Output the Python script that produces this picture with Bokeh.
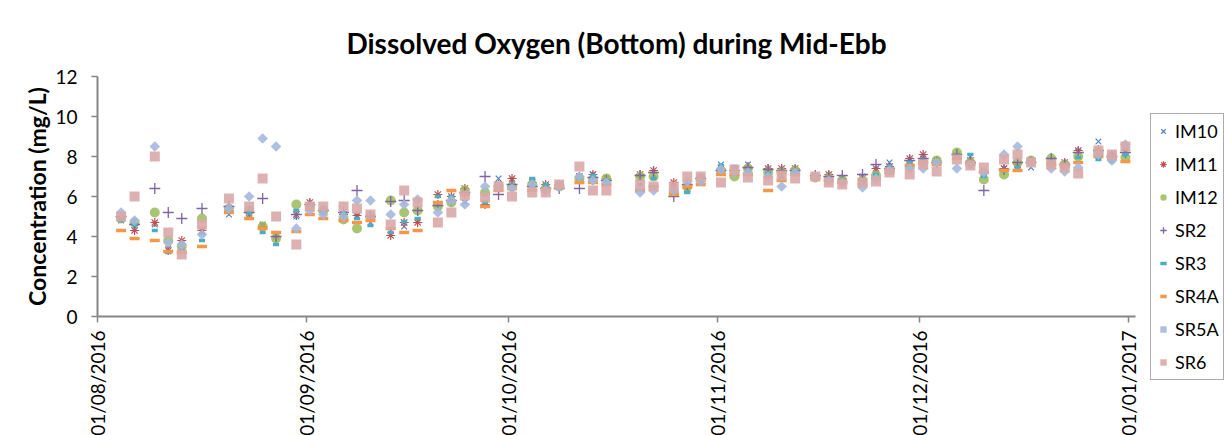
from math import pi
import pandas as pd
from bokeh.plotting import figure
from bokeh.models import FixedTicker, DatetimeTickFormatter, Range1d, Legend, LegendItem, ColumnDataSource
from bokeh.embed import file_html
from bokeh.resources import INLINE

title = "Dissolved Oxygen (Bottom) during Mid-Ebb"
y_label = "Concentration (mg/L)"
sample_time = "12:00"

dates = ["2016-08-04", "2016-08-06", "2016-08-09", "2016-08-11", "2016-08-13", "2016-08-16",
         "2016-08-20", "2016-08-23", "2016-08-25", "2016-08-27", "2016-08-30",
         "2016-09-01", "2016-09-03", "2016-09-06", "2016-09-08", "2016-09-10", "2016-09-13",
         "2016-09-15", "2016-09-17", "2016-09-20", "2016-09-22", "2016-09-24", "2016-09-27", "2016-09-29",
         "2016-10-01", "2016-10-04", "2016-10-06", "2016-10-08", "2016-10-11", "2016-10-13",
         "2016-10-15", "2016-10-20", "2016-10-22", "2016-10-25", "2016-10-27", "2016-10-29",
         "2016-11-01", "2016-11-03", "2016-11-05", "2016-11-08", "2016-11-10", "2016-11-12",
         "2016-11-15", "2016-11-17", "2016-11-19", "2016-11-22", "2016-11-24", "2016-11-26", "2016-11-29",
         "2016-12-01", "2016-12-03", "2016-12-06", "2016-12-08", "2016-12-10", "2016-12-13",
         "2016-12-15", "2016-12-17", "2016-12-20", "2016-12-22", "2016-12-24", "2016-12-27",
         "2016-12-29", "2016-12-31"]

IM10 = [4.8, 4.4, 4.6, 3.4, 3.6, 4.2, 5.1, 5.1, 4.6, 4.1, 5.0,
        5.4, 5.2, 5.0, 5.0, 4.7, 4.3, 4.5, 4.8, 5.6, 5.8, 5.7, 5.7, 6.9,
        6.8, 6.8, 6.5, 6.5, 7.0, 7.1, 6.9, 6.9, 7.1, 6.6, 6.3, 6.9,
        7.6, 7.4, 7.6, 7.3, 7.3, 7.3, 7.0, 7.0, 6.9, 7.0, 7.3, 7.7, 7.8,
        7.9, 7.8, 8.0, 8.0, 7.3, 7.4, 7.6, 7.45, 7.8, 7.6, 8.25, 8.75, 8.0, 8.2]
IM11 = [4.9, 4.3, 4.7, 3.3, 3.8, 4.3, 5.3, 5.2, 4.5, 4.0, 5.1,
        5.7, 5.3, 5.1, 5.05, 4.9, 4.05, 4.7, 4.7, 6.1, 6.0, 6.4, 5.6, 6.6,
        6.9, 6.7, 6.6, 6.6, 7.0, 7.1, 6.9, 7.1, 7.3, 6.7, 6.4, 6.9,
        7.4, 7.3, 7.4, 7.4, 7.4, 7.4, 7.05, 7.1, 6.9, 6.9, 7.4, 7.5, 7.9,
        8.1, 7.8, 8.05, 7.8, 7.2, 7.4, 7.6, 7.8, 7.7, 7.7, 8.3, 8.3, 8.1, 8.3]
IM12 = [4.9, 4.7, 5.2, 3.8, 3.5, 4.9, 5.4, 5.3, 4.5, 3.9, 5.6,
        5.5, 5.3, 4.85, 4.4, 5.0, 5.8, 5.2, 5.3, 5.5, 5.7, 6.3, 6.2, 6.5,
        6.5, 6.6, 6.4, 6.5, 6.9, 6.85, 6.9, 7.0, 7.0, 6.2, 6.5, 6.9,
        7.3, 7.0, 7.4, 7.2, 7.2, 7.3, 6.95, 6.9, 6.8, 6.8, 7.05, 7.3, 7.5,
        7.7, 7.8, 8.2, 7.7, 6.85, 7.1, 7.7, 7.8, 7.9, 7.6, 8.0, 8.2, 7.9, 7.95]
SR2 = [5.0, 4.6, 6.4, 5.2, 4.9, 5.4, 5.5, 5.2, 5.9, 4.0, 5.1,
       5.6, 5.3, 5.2, 6.3, 5.0, 5.75, 5.8, 5.3, 5.55, 5.8, 6.2, 7.0, 6.1,
       6.6, 6.5, 6.4, 6.4, 6.4, 6.95, 6.8, 7.05, 7.2, 6.0, 6.6, 6.9,
       7.3, 7.3, 7.45, 7.35, 7.3, 7.3, 7.05, 7.0, 7.05, 7.1, 7.6, 7.4, 7.8,
       7.9, 7.7, 8.1, 7.7, 6.3, 7.35, 7.7, 7.7, 7.9, 7.6, 8.2, 8.3, 8.0, 8.2]
SR3 = [4.8, 4.6, 4.3, 3.2, 3.3, 3.8, 5.3, 5.2, 4.2, 3.6, 5.3,
       5.5, 5.2, 5.2, 4.9, 4.55, 4.2, 4.75, 4.9, 6.0, 6.0, 6.1, 5.7, 6.5,
       6.4, 6.9, 6.6, 6.5, 6.9, 7.05, 6.8, 6.6, 6.9, 6.4, 6.2, 6.9,
       7.55, 7.5, 7.3, 7.15, 6.9, 7.2, 7.0, 6.9, 6.8, 6.8, 7.1, 7.5, 7.7,
       7.8, 7.7, 8.0, 8.1, 7.0, 7.3, 7.45, 7.7, 7.7, 7.5, 7.95, 7.85, 7.75, 8.1]
SR4A = [4.3, 3.9, 3.8, 3.25, 3.2, 3.5, 5.2, 4.9, 4.4, 4.2, 4.25,
        5.1, 4.9, 4.8, 4.7, 4.8, 4.4, 4.2, 4.3, 5.7, 6.3, 6.1, 5.5, 6.3,
        6.4, 6.3, 6.3, 6.5, 6.7, 6.7, 6.6, 6.3, 6.5, 6.1, 6.5, 6.6,
        7.1, 7.1, 7.1, 6.3, 6.8, 7.1, 6.9, 6.8, 6.7, 6.6, 6.9, 7.2, 7.55,
        7.7, 7.6, 7.9, 7.6, 7.2, 7.3, 7.3, 7.7, 7.6, 7.5, 7.7, 8.0, 7.9, 7.75]
SR5A = [5.2, 4.8, 8.5, 3.7, 3.6, 4.1, 5.4, 6.0, 8.9, 8.5, 4.4,
        5.3, 5.1, 5.0, 5.8, 5.8, 5.1, 5.6, 5.85, 5.2, 5.8, 5.6, 6.5, 6.5,
        6.4, 6.6, 6.3, 6.5, 7.0, 6.8, 6.7, 6.2, 6.3, 6.3, 6.75, 6.75,
        7.35, 7.2, 7.2, 7.0, 6.5, 7.2, 7.0, 6.8, 6.7, 6.45, 6.9, 7.3, 7.4,
        7.4, 7.7, 7.4, 7.6, 7.2, 8.1, 8.5, 7.7, 7.4, 7.25, 7.45, 8.1, 7.8, 8.6]
SR6 = [5.0, 6.0, 8.0, 4.2, 3.1, 4.6, 5.9, 5.5, 6.9, 5.0, 3.6,
       5.5, 5.5, 5.5, 5.4, 5.1, 4.6, 6.3, 5.7, 4.7, 5.2, 6.05, 5.95, 6.5,
       6.0, 6.2, 6.2, 6.6, 7.5, 6.3, 6.3, 6.6, 6.5, 6.5, 7.0, 7.0,
       6.7, 7.35, 6.95, 6.8, 7.05, 6.9, 7.0, 6.7, 6.6, 6.7, 6.75, 7.2, 7.1,
       7.6, 7.25, 7.85, 7.55, 7.45, 7.85, 8.1, 7.7, 7.6, 7.45, 7.15, 8.3, 8.1, 8.5]

tick_dates = ["2016-08-01", "2016-09-01", "2016-10-01", "2016-11-01", "2016-12-01", "2017-01-01"]
x_start, x_end = "2016-08-01", "2017-01-02"
y_ticks = [0, 2, 4, 6, 8, 10, 12]

series = [
    ("IM10", IM10, dict(marker="x", size=8, line_color="#4F81BD", line_width=1.2)),
    ("IM11", IM11, dict(marker="asterisk", size=9, line_color="#C0504D", line_width=1.2)),
    ("IM12", IM12, dict(marker="circle", size=10, fill_color="#9BBB59", fill_alpha=0.85, line_color=None)),
    ("SR2", SR2, dict(marker="cross", size=11, line_color="#8064A2", line_width=1.3)),
    ("SR3", SR3, dict(marker="dash", size=6, line_color="#4BACC6", line_width=3.5)),
    ("SR4A", SR4A, dict(marker="dash", size=10, line_color="#F79646", line_width=3.5)),
    ("SR5A", SR5A, dict(marker="square", size=7.5, angle=pi / 4, fill_color="#A5B8DC", fill_alpha=0.9, line_color=None)),
    ("SR6", SR6, dict(marker="square", size=10, fill_color="#D9A9A9", fill_alpha=0.9, line_color=None)),
]

FONT = "Lato"
x = pd.to_datetime([d + " " + sample_time for d in dates])

p = figure(frame_width=1038, frame_height=240, x_axis_type="datetime", output_backend="svg",
           toolbar_location=None, tools="",
           x_range=Range1d(pd.Timestamp(x_start), pd.Timestamp(x_end)),
           y_range=Range1d(0, 12),
           min_border_left=97, min_border_right=90, min_border_top=76, min_border_bottom=119)

p.title.text = title
p.title.align = "center"
p.title.text_font = FONT
p.title.text_font_size = "28px"
p.title.text_font_style = "bold"
p.title.text_color = "#000000"
p.title.standoff = 34

p.outline_line_color = None
p.xgrid.visible = False
p.ygrid.visible = False
p.background_fill_color = "white"
p.border_fill_color = "white"

for ax in (p.xaxis[0], p.yaxis[0]):
    ax.axis_line_color = "#868686"
    ax.axis_line_width = 2
    ax.major_tick_line_color = "#868686"
    ax.major_tick_line_width = 1.5
    ax.major_tick_out = 6
    ax.major_tick_in = 0
    ax.minor_tick_line_color = None
    ax.major_label_text_font = FONT
    ax.major_label_text_color = "#000000"

p.yaxis.ticker = FixedTicker(ticks=y_ticks)
p.yaxis.major_label_text_font_size = "19px"
p.yaxis.major_label_standoff = 14
p.yaxis.axis_label = y_label
p.yaxis.axis_label_text_font = FONT
p.yaxis.axis_label_text_font_size = "23px"
p.yaxis.axis_label_text_font_style = "bold"
p.yaxis.axis_label_text_color = "#000000"
p.yaxis.axis_label_standoff = 1

p.xaxis.ticker = FixedTicker(ticks=[pd.Timestamp(t).value / 1e6 for t in tick_dates])
fmt = "%d/%m/%Y"
p.xaxis.formatter = DatetimeTickFormatter(days=fmt, months=fmt, years=fmt, hours=fmt,
                                          minutes=fmt, seconds=fmt, milliseconds=fmt)
p.xaxis.major_label_orientation = pi / 2
p.xaxis.major_label_text_font_size = "19px"
p.xaxis.major_label_standoff = 8

items = []
for name, vals, style in series:
    src = ColumnDataSource(dict(x=x, y=vals))
    r = p.scatter("x", "y", source=src, **style)
    items.append(LegendItem(label=name, renderers=[r]))

legend = Legend(items=items, location=(15, -64), orientation="vertical",
                label_text_font=FONT, label_text_font_size="18px", label_text_color="#000000",
                glyph_width=16, glyph_height=26, label_height=26, label_standoff=4,
                spacing=7, padding=4, margin=0,
                border_line_color="#595959", border_line_width=1,
                background_fill_color="white", background_fill_alpha=1)
p.add_layout(legend, "right")

open("out.html", "w").write(file_html(p, INLINE))
